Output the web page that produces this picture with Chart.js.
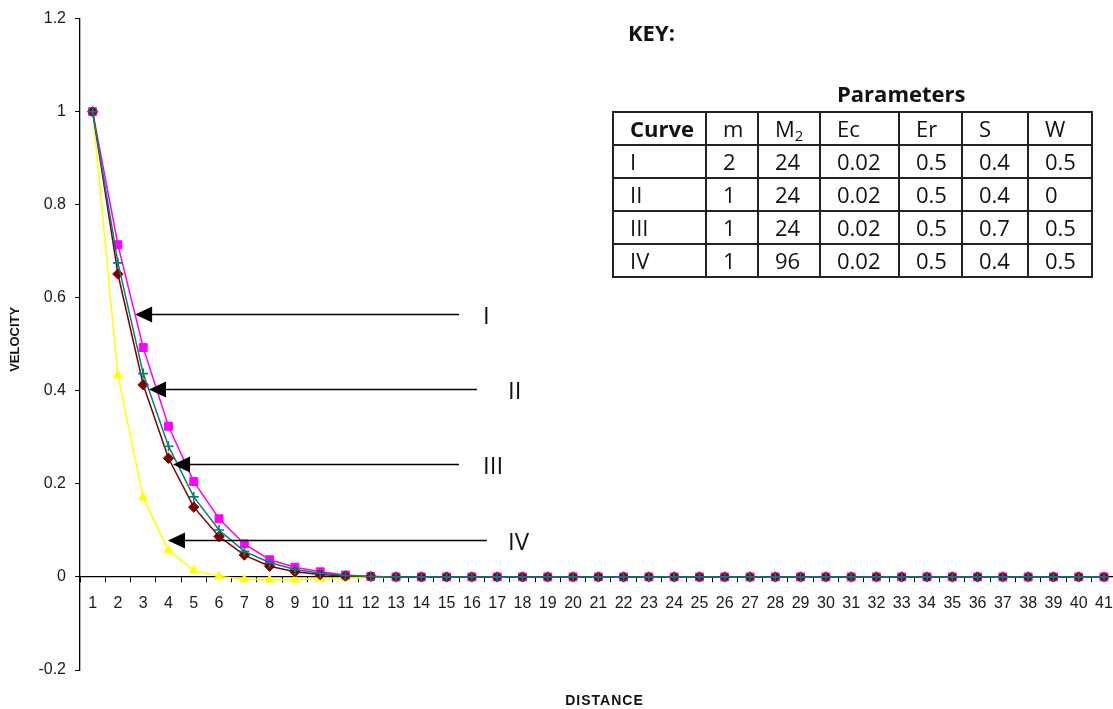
<!DOCTYPE html>
<html>
<head>
<meta charset="utf-8">
<title>Velocity vs distance</title>
<script src="https://cdn.jsdelivr.net/npm/chart.js@4.4.1/dist/chart.umd.min.js"></script>
<style>
  html, body { margin: 0; padding: 0; background: #fff; overflow: hidden; }
  #wrap { position: relative; width: 1113px; height: 709px; overflow: hidden; }
  #chart { position: absolute; left: 0; top: 0; }
  .txt { position: absolute; font-family: "Open Sans", sans-serif; color: #111; white-space: nowrap; }
  #keyTitle { left: 628px; top: 16px; font-size: 22px; font-weight: bold; line-height: 32px; }
  #paramTitle { left: 837px; top: 77px; font-size: 22px; font-weight: bold; line-height: 32px; }
  #params {
    position: absolute; left: 612px; top: 111px;
    border-collapse: collapse; table-layout: fixed;
    font-family: "Open Sans", sans-serif; font-size: 22px; color: #111;
  }
  #params td {
    border: 2px solid #222; height: 31px; padding: 0 0 0 16px;
    line-height: 31px; overflow: hidden; white-space: nowrap;
  }
  #params tr:first-child td:first-child { font-weight: bold; }
  #params sub { font-size: 15px; vertical-align: -4px; line-height: 0; }
</style>
</head>
<body>
<div id="wrap">
  <canvas id="chart" width="1125" height="709"></canvas>
  <div class="txt" id="keyTitle">KEY:</div>
  <div class="txt" id="paramTitle">Parameters</div>
  <table id="params">
    <colgroup>
      <col style="width:93px"><col style="width:52px"><col style="width:62px"><col style="width:79px">
      <col style="width:63px"><col style="width:66px"><col style="width:64px">
    </colgroup>
    <tr><td>Curve</td><td>m</td><td>M<sub>2</sub></td><td>Ec</td><td>Er</td><td>S</td><td>W</td></tr>
    <tr><td>I</td><td>2</td><td>24</td><td>0.02</td><td>0.5</td><td>0.4</td><td>0.5</td></tr>
    <tr><td>II</td><td>1</td><td>24</td><td>0.02</td><td>0.5</td><td>0.4</td><td>0</td></tr>
    <tr><td>III</td><td>1</td><td>24</td><td>0.02</td><td>0.5</td><td>0.7</td><td>0.5</td></tr>
    <tr><td>IV</td><td>1</td><td>96</td><td>0.02</td><td>0.5</td><td>0.4</td><td>0.5</td></tr>
  </table>
</div>
<script>
// distance categories
const distance = ['1', '2', '3', '4', '5', '6', '7', '8', '9', '10',
  '11', '12', '13', '14', '15', '16', '17', '18', '19', '20',
  '21', '22', '23', '24', '25', '26', '27', '28', '29', '30',
  '31', '32', '33', '34', '35', '36', '37', '38', '39', '40', '41'];

// velocity values
const curveI = [1, 0.714, 0.493, 0.324, 0.205, 0.125, 0.071, 0.037, 0.021, 0.011,
  0.004, 0.001, 0, 0, 0, 0, 0, 0, 0, 0,
  0, 0, 0, 0, 0, 0, 0, 0, 0, 0,
  0, 0, 0, 0, 0, 0, 0, 0, 0, 0, 0];
const curveII = [1, 0.675, 0.437, 0.281, 0.172, 0.101, 0.055, 0.031, 0.016, 0.008,
  0.003, 0.001, 0, 0, 0, 0, 0, 0, 0, 0,
  0, 0, 0, 0, 0, 0, 0, 0, 0, 0,
  0, 0, 0, 0, 0, 0, 0, 0, 0, 0, 0];
const curveIII = [1, 0.651, 0.413, 0.255, 0.15, 0.087, 0.047, 0.023, 0.011, 0.005,
  0.002, 0.001, 0, 0, 0, 0, 0, 0, 0, 0,
  0, 0, 0, 0, 0, 0, 0, 0, 0, 0,
  0, 0, 0, 0, 0, 0, 0, 0, 0, 0, 0];
const curveIV = [1, 0.433, 0.17, 0.057, 0.014, 0.001, -0.005, -0.006, -0.006, -0.004,
  -0.003, -0.002, -0.001, 0, 0, 0, 0, 0, 0, 0,
  0, 0, 0, 0, 0, 0, 0, 0, 0, 0,
  0, 0, 0, 0, 0, 0, 0, 0, 0, 0, 0];

// y axis ticks
const yTicks = [-0.2, 0, 0.2, 0.4, 0.6, 0.8, 1, 1.2];
const yTickLabels = ['-0.2', '0', '0.2', '0.4', '0.6', '0.8', '1', '1.2'];

// arrows pointing at the curves (distance units / velocity)
const arrowNames = ['I', 'II', 'III', 'IV'];
const arrowTip = [2.68, 3.23, 4.18, 3.98];
const arrowTail = [15.49, 16.2, 15.49, 16.59];
const arrowLabelAt = [16.44, 17.43, 16.44, 17.43];
const arrowVelocity = [0.566, 0.403, 0.242, 0.079];

const FONT = '"Liberation Sans", Arial, sans-serif';

// arrows + axis titles
const overlayPlugin = {
  id: 'overlay',
  afterDraw(chart) {
    const { ctx, scales: { x, y } } = chart;
    ctx.save();
    ctx.fillStyle = '#000';
    ctx.strokeStyle = '#000';
    ctx.lineWidth = 1.5;

    arrowNames.forEach((name, i) => {
      const tip = x.getPixelForValue(arrowTip[i] - 1);
      const tail = x.getPixelForValue(arrowTail[i] - 1);
      const py = Math.round(y.getPixelForValue(arrowVelocity[i])) + 0.5;
      ctx.beginPath();
      ctx.moveTo(tail, py);
      ctx.lineTo(tip + 14, py);
      ctx.stroke();
      ctx.beginPath();
      ctx.moveTo(tip, py);
      ctx.lineTo(tip + 17, py - 8);
      ctx.lineTo(tip + 17, py + 8);
      ctx.closePath();
      ctx.fill();

      ctx.font = '24px "Open Sans", sans-serif';
      ctx.textAlign = 'left';
      ctx.textBaseline = 'middle';
      ctx.fillStyle = '#111';
      ctx.fillText(name, x.getPixelForValue(arrowLabelAt[i] - 1), py + 3);
      ctx.fillStyle = '#000';
    });

    // axis titles
    ctx.fillStyle = '#111';
    ctx.font = 'bold 14px ' + FONT;
    ctx.textAlign = 'center';
    ctx.textBaseline = 'middle';
    ctx.letterSpacing = '1px';
    ctx.fillText('DISTANCE', (chart.chartArea.left + 1113) / 2 + 8, 701);
    ctx.letterSpacing = '0px';

    ctx.translate(15, (chart.chartArea.top + chart.chartArea.bottom) / 2 - 5);
    ctx.rotate(-Math.PI / 2);
    ctx.font = 'bold 13px ' + FONT;
    ctx.fillText('VELOCITY', 0, 0);
    ctx.restore();
  }
};

const tickFont = { family: FONT, size: 16 };

new Chart(document.getElementById('chart'), {
  type: 'line',
  data: {
    labels: distance,
    datasets: [
      {
        label: 'II', data: curveII, order: 1,
        borderColor: '#008080', backgroundColor: '#008080',
        pointStyle: 'cross', pointRadius: 5, pointBorderWidth: 1.6
      },
      {
        label: 'III', data: curveIII, order: 2,
        borderColor: '#800000', backgroundColor: '#800000',
        pointStyle: 'rectRot', pointRadius: 5.2, pointBorderWidth: 1
      },
      {
        label: 'I', data: curveI, order: 3,
        borderColor: '#ff00ff', backgroundColor: '#ff00ff',
        pointStyle: 'rect', pointRadius: 5.6, pointBorderWidth: 1
      },
      {
        label: 'IV', data: curveIV, order: 4,
        borderColor: '#ffff00', backgroundColor: '#ffff00',
        pointStyle: 'triangle', pointRadius: 5, pointBorderWidth: 1
      }
    ]
  },
  options: {
    responsive: false,
    animation: false,
    devicePixelRatio: 1,
    layout: { padding: { left: 0, top: 17, right: 8, bottom: 39 } },
    elements: { line: { borderWidth: 1.5, tension: 0 } },
    plugins: { legend: { display: false }, tooltip: { enabled: false } },
    scales: {
      x: {
        type: 'category',
        position: { y: 0 },
        offset: true,
        grid: { offset: true, drawOnChartArea: false, drawTicks: true, tickLength: 5, color: '#000' },
        border: { display: true, color: '#000', width: 1.3 },
        ticks: { color: '#1a1a1a', font: tickFont, padding: 12, maxRotation: 0, autoSkip: false }
      },
      y: {
        min: -0.2,
        max: 1.2,
        afterFit: scale => { scale.width = 80; },
        afterBuildTicks: scale => { scale.ticks = yTicks.map(v => ({ value: v })); },
        grid: { drawOnChartArea: false, drawTicks: true, tickLength: 5, color: '#000' },
        border: { display: true, color: '#000', width: 1.3 },
        ticks: {
          color: '#1a1a1a', font: tickFont, padding: 9,
          callback: (value, index) => yTickLabels[index]
        }
      }
    }
  },
  plugins: [overlayPlugin]
});
</script>
</body>
</html>
